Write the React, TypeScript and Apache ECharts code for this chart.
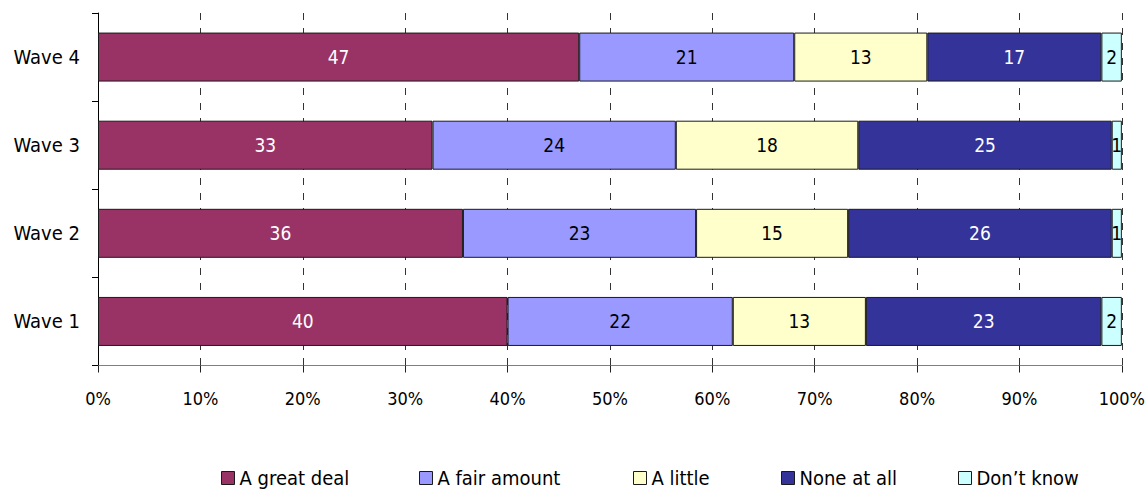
import React, { useEffect, useRef } from "react";
import * as echarts from "echarts";

const categories = ["Wave 1", "Wave 2", "Wave 3", "Wave 4"];
const seriesNames = ["A great deal", "A fair amount", "A little", "None at all", "Don\u2019t know"];
const greatDeal = [40, 36, 33, 47];
const fairAmount = [22, 23, 24, 21];
const aLittle = [13, 15, 18, 13];
const noneAtAll = [23, 26, 25, 17];
const dontKnow = [2, 1, 1, 2];
const colors = ["#993366", "#9999FF", "#FFFFCC", "#333399", "#CCFFFF"];
const labelColors = ["#ffffff", "#000000", "#000000", "#ffffff", "#000000"];
const legendLeft = [221, 419, 633, 781, 958];

const FONT = "'DejaVu Sans Condensed', 'DejaVu Sans', sans-serif";

export default function App() {
  const ref = useRef<HTMLDivElement>(null);
  useEffect(() => {
    if (!ref.current) return;
    const chart = echarts.init(ref.current, null, { renderer: "svg" });
    const raw = [greatDeal, fairAmount, aLittle, noneAtAll, dontKnow];
    const totals = categories.map((_, i) => raw.reduce((s, arr) => s + arr[i], 0));
    const series = raw.map((arr, si) => ({
      name: seriesNames[si],
      type: "bar",
      stack: "total",
      barWidth: 49,
      data: arr.map((v, i) => ({ value: (v / totals[i]) * 100, raw: v })),
      itemStyle: { color: colors[si], borderColor: "#1a1a1a", borderWidth: 1 },
      label: {
        show: true,
        position: "inside",
        color: labelColors[si],
        fontFamily: FONT,
        fontSize: 19,
        formatter: (p: any) => String(p.data.raw),
      },
    }));
    const legends = seriesNames.map((n, i) => ({
      data: [n],
      left: legendLeft[i],
      top: 468,
      padding: 0,
      icon: "rect",
      itemWidth: 13,
      itemHeight: 13,
      itemGap: 0,
      selectedMode: false,
      itemStyle: { borderColor: "#1a1a1a", borderWidth: 1 },
      textStyle: { fontFamily: FONT, fontSize: 20, color: "#000", padding: [0, 0, 0, 0] },
    }));
    chart.setOption({
      animation: false,
      backgroundColor: "#ffffff",
      grid: { left: 98, right: 26, top: 13, bottom: 123.5, containLabel: false },
      legend: legends,
      xAxis: {
        type: "value",
        min: 0,
        max: 100,
        interval: 10,
        axisLine: { show: true, lineStyle: { color: "#808080", width: 1 } },
        axisTick: { show: true, length: 7, lineStyle: { color: "#222" } },
        axisLabel: {
          formatter: "{value}%",
          color: "#000",
          fontFamily: FONT,
          fontSize: 18,
          margin: 24,
        },
        splitLine: {
          show: true,
          lineStyle: { color: "#333", type: [7, 8], width: 1 },
        },
      },
      yAxis: {
        type: "category",
        data: categories,
        axisLine: { show: true, lineStyle: { color: "#000", width: 1 } },
        axisTick: { show: true, length: 6, lineStyle: { color: "#000" } },
        axisLabel: { color: "#000", fontFamily: FONT, fontSize: 20, margin: 18 },
        splitLine: { show: false },
      },
      series,
    });
    return () => chart.dispose();
  }, []);
  return (
    <div
      ref={ref}
      style={{ position: "fixed", left: 0, top: 0, width: 1148, height: 489 }}
    />
  );
}
